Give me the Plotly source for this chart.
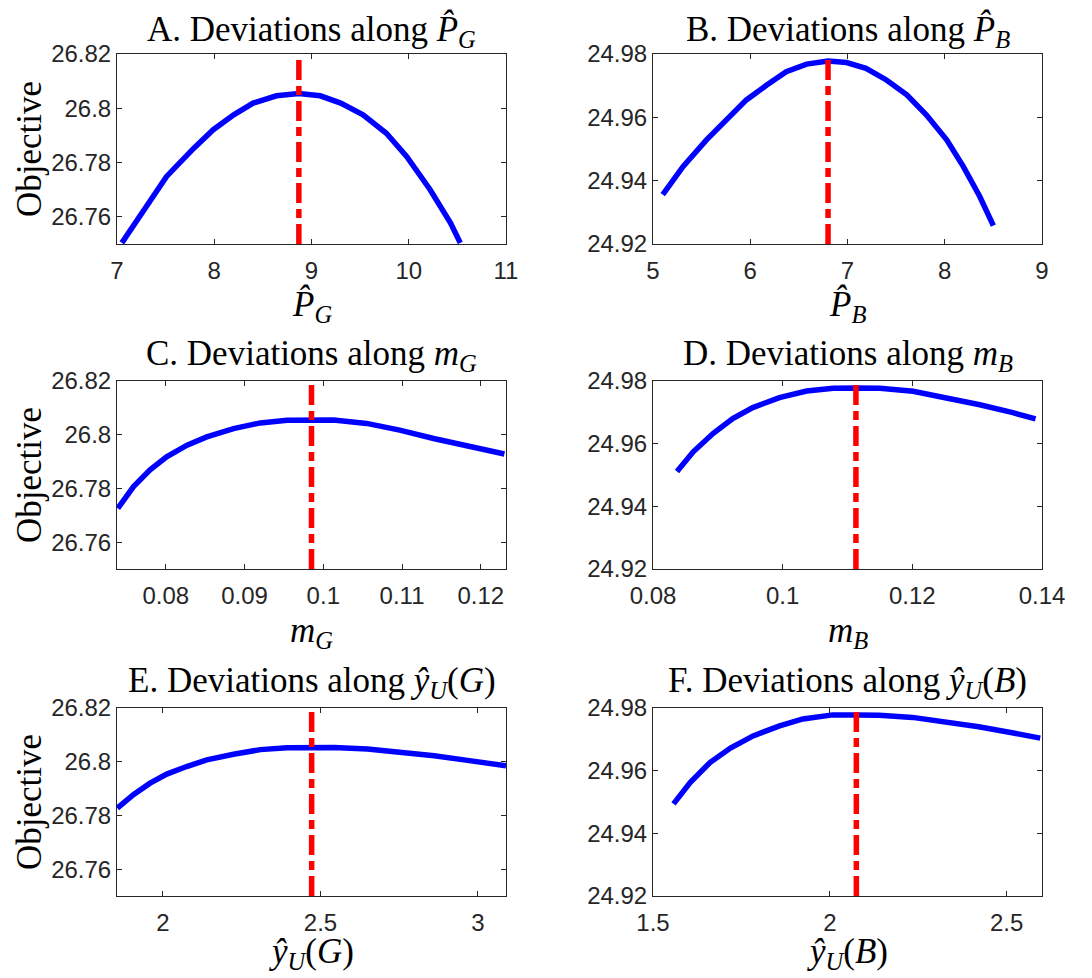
import plotly.graph_objects as go

# The page body has an 8px default margin; the figure is sized and positioned to compensate.
PAGE_W, PAGE_H = 1092, 978
OFF = 8
W, H = PAGE_W - OFF, PAGE_H - OFF

# ---------------- data ----------------
# Panel A: deviations along P_G
pg_x = [7.05, 7.51, 7.79, 7.99, 8.20, 8.40, 8.64, 8.87, 9.09, 9.30, 9.53, 9.77, 9.98, 10.22, 10.43, 10.53]
pg_y = [26.7504, 26.7749, 26.7853, 26.7921, 26.7976, 26.8019, 26.8046, 26.8054, 26.8046, 26.8019,
        26.7976, 26.7908, 26.7822, 26.7700, 26.7577, 26.7504]
pg_opt = 8.87

# Panel B: deviations along P_B
pb_x = [5.10, 5.31, 5.55, 5.75, 5.96, 6.17, 6.37, 6.58, 6.80, 6.99, 7.19, 7.40, 7.61, 7.81, 8.02, 8.19, 8.36, 8.50]
pb_y = [24.9356, 24.9445, 24.9529, 24.9590, 24.9655, 24.9702, 24.9744, 24.9768, 24.9778, 24.9773,
        24.9755, 24.9718, 24.9671, 24.9608, 24.9529, 24.9445, 24.9350, 24.9258]
pb_opt = 6.80

# Panel C: deviations along m_G
mg_x = [0.0739, 0.0759, 0.0780, 0.0801, 0.0827, 0.0852, 0.0886, 0.0920, 0.0954, 0.0985, 0.1013,
        0.1055, 0.1097, 0.1140, 0.1182, 0.1230]
mg_y = [26.7726, 26.7807, 26.7869, 26.7918, 26.7961, 26.7992, 26.8023, 26.8044, 26.8054, 26.8056,
        26.8055, 26.8042, 26.8017, 26.7986, 26.7958, 26.7928]
mg_opt = 0.0985

# Panel D: deviations along m_B
mb_x = [0.0837, 0.0862, 0.0893, 0.0923, 0.0954, 0.0995, 0.1037, 0.1078, 0.1114, 0.1150, 0.1201,
        0.1252, 0.1304, 0.1355, 0.1390]
mb_y = [24.9511, 24.9574, 24.9633, 24.9680, 24.9715, 24.9747, 24.9768, 24.9777, 24.9778, 24.9777,
        24.9767, 24.9747, 24.9724, 24.9699, 24.9679]
mb_opt = 0.1113

# Panel E: deviations along y_U(G)
yg_x = [1.855, 1.906, 1.959, 2.012, 2.075, 2.139, 2.224, 2.309, 2.394, 2.474, 2.543, 2.649, 2.755,
        2.861, 2.967, 3.089]
yg_y = [26.7827, 26.7877, 26.7920, 26.7954, 26.7982, 26.8007, 26.8028, 26.8045, 26.8052, 26.8055,
        26.8053, 26.8047, 26.8036, 26.8022, 26.8005, 26.7985]
yg_opt = 2.472

# Panel F: deviations along y_U(B)
yb_x = [1.558, 1.605, 1.661, 1.719, 1.783, 1.858, 1.924, 2.008, 2.074, 2.140, 2.234, 2.327, 2.421,
        2.515, 2.595]
yb_y = [24.9494, 24.9562, 24.9626, 24.9672, 24.9711, 24.9743, 24.9765, 24.9778, 24.9778, 24.9777,
        24.9770, 24.9757, 24.9740, 24.9721, 24.9704]
yb_opt = 2.075

# axis ranges and ticks
left_yrange = [26.75, 26.82]
right_yrange = [24.92, 24.98]
left_yticks = [26.76, 26.78, 26.80, 26.82]
left_ytext = ["26.76", "26.78", "26.8", "26.82"]
right_yticks = [24.92, 24.94, 24.96, 24.98]
right_ytext = ["24.92", "24.94", "24.96", "24.98"]

xr_A, xt_A, xl_A = [7, 11], [7, 8, 9, 10, 11], ["7", "8", "9", "10", "11"]
xr_B, xt_B, xl_B = [5, 9], [5, 6, 7, 8, 9], ["5", "6", "7", "8", "9"]
xr_C, xt_C, xl_C = [0.0738, 0.1232], [0.08, 0.09, 0.10, 0.11, 0.12], ["0.08", "0.09", "0.1", "0.11", "0.12"]
xr_D, xt_D, xl_D = [0.08, 0.14], [0.08, 0.10, 0.12, 0.14], ["0.08", "0.1", "0.12", "0.14"]
xr_E, xt_E, xl_E = [1.854, 3.089], [2, 2.5, 3], ["2", "2.5", "3"]
xr_F, xt_F, xl_F = [1.5, 2.6], [1.5, 2, 2.5], ["1.5", "2", "2.5"]

titles = [
    "A. Deviations along <i>P\u0302<sub>G</sub></i>",
    "B. Deviations along <i>P\u0302<sub>B</sub></i>",
    "C. Deviations along <i>m<sub>G</sub></i>",
    "D. Deviations along <i>m<sub>B</sub></i>",
    "E. Deviations along <i>\u0177<sub>U</sub></i>(<i>G</i>)",
    "F. Deviations along <i>\u0177<sub>U</sub></i>(<i>B</i>)",
]
xlabels = [
    "<i>P\u0302<sub>G</sub></i>",
    "<i>P\u0302<sub>B</sub></i>",
    "<i>m<sub>G</sub></i>",
    "<i>m<sub>B</sub></i>",
    "<i>\u0177<sub>U</sub></i>(<i>G</i>)",
    "<i>\u0177<sub>U</sub></i>(<i>B</i>)",
]
ylabel = "Objective"

# ---------------- layout geometry (page pixels) ----------------
col_px = [(117, 506), (653, 1042)]
row_px = [(54, 244), (381, 569), (708, 896)]
title_mid = [31, 355, 682]
xlabel_mid = [306, 632, 953]

def px_x(p):
    return (p - OFF) / W

def px_y(p):
    return 1 - (p - OFF) / H

panels = [
    (pg_x, pg_y, pg_opt, xr_A, xt_A, xl_A, left_yrange, left_yticks, left_ytext),
    (pb_x, pb_y, pb_opt, xr_B, xt_B, xl_B, right_yrange, right_yticks, right_ytext),
    (mg_x, mg_y, mg_opt, xr_C, xt_C, xl_C, left_yrange, left_yticks, left_ytext),
    (mb_x, mb_y, mb_opt, xr_D, xt_D, xl_D, right_yrange, right_yticks, right_ytext),
    (yg_x, yg_y, yg_opt, xr_E, xt_E, xl_E, left_yrange, left_yticks, left_ytext),
    (yb_x, yb_y, yb_opt, xr_F, xt_F, xl_F, right_yrange, right_yticks, right_ytext),
]

AX = "#262626"
TICKFONT = dict(family="Liberation Sans, Arial, sans-serif", size=24, color=AX)
SERIF = "Liberation Serif, Times New Roman, serif"

fig = go.Figure()
layout = dict(
    template="none",
    width=W, height=H,
    margin=dict(l=0, r=0, t=0, b=0, autoexpand=False),
    paper_bgcolor="white", plot_bgcolor="white",
    showlegend=False,
    annotations=[],
)

for i, (xs, ys, xopt, xr, xt, xl, yr, yt, yl) in enumerate(panels):
    r, c = divmod(i, 2)
    n = i + 1
    xa = "xaxis" if n == 1 else f"xaxis{n}"
    ya = "yaxis" if n == 1 else f"yaxis{n}"
    xref = "x" if n == 1 else f"x{n}"
    yref = "y" if n == 1 else f"y{n}"

    fig.add_trace(go.Scatter(x=xs, y=ys, mode="lines", xaxis=xref, yaxis=yref,
                             line=dict(color="#0000ff", width=5.5), hoverinfo="skip"))
    fig.add_trace(go.Scatter(x=[xopt, xopt], y=yr, mode="lines", xaxis=xref, yaxis=yref,
                             line=dict(color="#ff0000", width=5.5, dash="20px,6px,9px,6px"),
                             hoverinfo="skip"))

    x0, x1 = col_px[c]
    y0, y1 = row_px[r]
    layout[xa] = dict(
        domain=[px_x(x0), px_x(x1)], range=xr, anchor=yref, automargin=False,
        tickvals=xt, ticktext=xl, tickfont=TICKFONT,
        ticks="inside", ticklen=5, tickcolor=AX, tickwidth=1,
        showline=True, linecolor=AX, linewidth=1, mirror="allticks",
        showgrid=False, zeroline=False, ticklabelstandoff=5,
    )
    layout[ya] = dict(
        domain=[px_y(y1), px_y(y0)], range=yr, anchor=xref, automargin=False,
        tickvals=yt, ticktext=yl, tickfont=TICKFONT,
        ticks="inside", ticklen=5, tickcolor=AX, tickwidth=1,
        showline=True, linecolor=AX, linewidth=1, mirror="allticks",
        showgrid=False, zeroline=False, ticklabelstandoff=0,
    )

    cx = (x0 + x1) / 2
    layout["annotations"].append(dict(
        text=titles[i], x=px_x(cx), y=px_y(title_mid[r]), xref="paper", yref="paper",
        xanchor="center", yanchor="middle", showarrow=False,
        font=dict(family=SERIF, size=35, color="black"),
    ))
    layout["annotations"].append(dict(
        text=xlabels[i], x=px_x(cx), y=px_y(xlabel_mid[r]), xref="paper", yref="paper",
        xanchor="center", yanchor="middle", showarrow=False,
        font=dict(family=SERIF, size=35, color="black"),
    ))
    if c == 0:
        layout["annotations"].append(dict(
            text=ylabel, x=px_x(29), y=px_y((y0 + y1) / 2), xref="paper", yref="paper",
            xanchor="center", yanchor="middle", showarrow=False, textangle=-90,
            font=dict(family=SERIF, size=35, color="black"),
        ))

fig.update_layout(**layout)
fig.write_html("out.html", config={"displayModeBar": False})
